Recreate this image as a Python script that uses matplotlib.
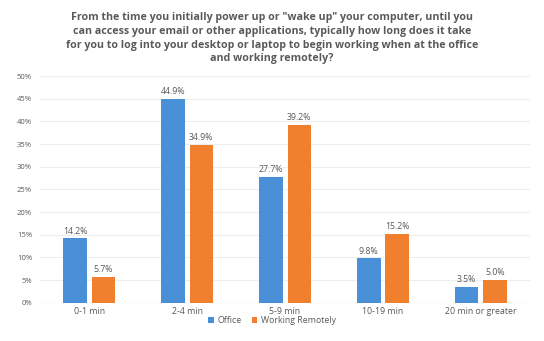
import numpy as np
import matplotlib.pyplot as plt

# =========================
# Data
# =========================
categories = ["0-1 min", "2-4 min", "5-9 min", "10-19 min", "20 min or greater"]
office = [14.2, 44.9, 27.7, 9.8, 3.5]
remote = [5.7, 34.9, 39.2, 15.2, 5.0]
series_names = ["Office", "Working Remotely"]
yticks = [0, 5, 10, 15, 20, 25, 30, 35, 40, 45, 50]

TITLE = ('From the time you initially power up or "wake up" your computer, until you\n'
         'can access your email or other applications, typically how long does it take\n'
         'for you to log into your desktop or laptop to begin working when at the office\n'
         'and working remotely?')

BLUE = "#4A90D9"
ORANGE = "#F07F2E"
TEXT = "#595959"

plt.rcParams['font.family'] = ['Open Sans', 'DejaVu Sans']

fig = plt.figure(figsize=(5.44, 3.41), dpi=100)
ax = fig.add_axes([0.074, 0.112, 0.9, 0.665])

x = np.arange(len(categories))
w = 0.24
off = 0.145

b1 = ax.bar(x - off, office, w, color=BLUE, label=series_names[0], zorder=3)
b2 = ax.bar(x + off, remote, w, color=ORANGE, label=series_names[1], zorder=3)

for bars, vals in ((b1, office), (b2, remote)):
    for b, v in zip(bars, vals):
        ax.text(b.get_x() + b.get_width() / 2, v + 0.6, f"{v:.1f}%",
                ha="center", va="bottom", fontsize=6.3, color=TEXT)

ax.set_xlim(-0.5, len(categories) - 0.5)
ax.set_ylim(0, 50)
ax.set_yticks(yticks)
ax.set_yticklabels([f"{t}%" for t in yticks], fontsize=5.5, color=TEXT)
ax.set_xticks(x)
ax.set_xticklabels(categories, fontsize=6.3, color=TEXT)
ax.tick_params(axis="x", length=0, pad=3)
ax.tick_params(axis="y", length=0, pad=6)
ax.yaxis.grid(True, color="#EDEDED", linewidth=0.8, zorder=0)

for s in ax.spines.values():
    s.set_visible(False)
ax.axhline(0, color="#D9D9D9", linewidth=0.8, zorder=2)

fig.text(0.5, 0.965, TITLE, ha="center", va="top", fontsize=7.7,
         fontweight="bold", color=TEXT, linespacing=1.35)

fig.legend(handles=[b1, b2], labels=series_names, loc="center",
           bbox_to_anchor=(0.5, 0.06), ncol=2, frameon=False,
           fontsize=6.3, labelcolor=TEXT, handlelength=0.6, handleheight=0.6,
           columnspacing=1.2, handletextpad=0.4)

fig.savefig("out.png", dpi=100)
